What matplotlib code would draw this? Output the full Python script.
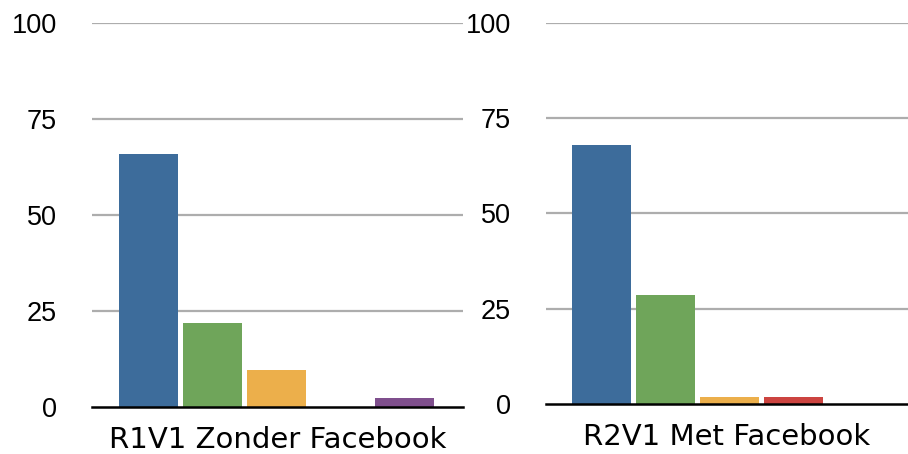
import matplotlib
matplotlib.use("Agg")
import matplotlib.pyplot as plt

W, H = 908, 454
categories = ["Cat 1", "Cat 2", "Cat 3", "Cat 4", "Cat 5"]
colors = ["#3D6C9B", "#6FA55A", "#ECAF4B", "#CC4440", "#7F4F8D"]
panel_titles = ["R1V1 Zonder Facebook", "R2V1 Met Facebook"]
values_r1v1 = [65.7, 21.8, 9.5, 0.0, 2.3]
values_r2v1 = [67.9, 28.6, 1.8, 1.8, 0.0]
yticks = [0, 25, 50, 75, 100]

fig = plt.figure(figsize=(W / 100, H / 100), dpi=100)

def px_axes(x0, x1, ytop, ybot):
    return fig.add_axes([x0 / W, 1 - ybot / H, (x1 - x0) / W, (ybot - ytop) / H])

specs = [
    (values_r1v1, 92, 463, 22.7, 406.7, (-0.883, 4.914)),
    (values_r2v1, 546, 908, 22.7, 404.0, (-0.87, 4.786)),
]
for (vals, x0, x1, yt, yb, xl), title in zip(specs, panel_titles):
    ax = px_axes(x0, x1, yt, yb)
    ax.set_facecolor("none")
    xs = list(range(len(categories)))
    ax.bar(xs, vals, width=0.92, color=colors, zorder=3)
    ax.set_xlim(*xl)
    ax.set_ylim(0, 100)
    ax.set_yticks(yticks)
    ax.set_yticklabels([str(t) for t in yticks], fontfamily="Liberation Sans", fontsize=19.5)
    ax.tick_params(axis="y", length=0, pad=25.2)
    ax.set_xticks([])
    for t in yticks[1:]:
        ax.axhline(t, color="#ADADAD", lw=1.6, zorder=1)
    ax.axhline(0, color="black", lw=1.8, zorder=4, clip_on=False)
    for s in ax.spines.values():
        s.set_visible(False)
    ax.text(0.5, -0.05, title, transform=ax.transAxes, ha="center", va="top",
            fontfamily="DejaVu Sans", fontsize=21)

fig.savefig("out.png", dpi=100)
